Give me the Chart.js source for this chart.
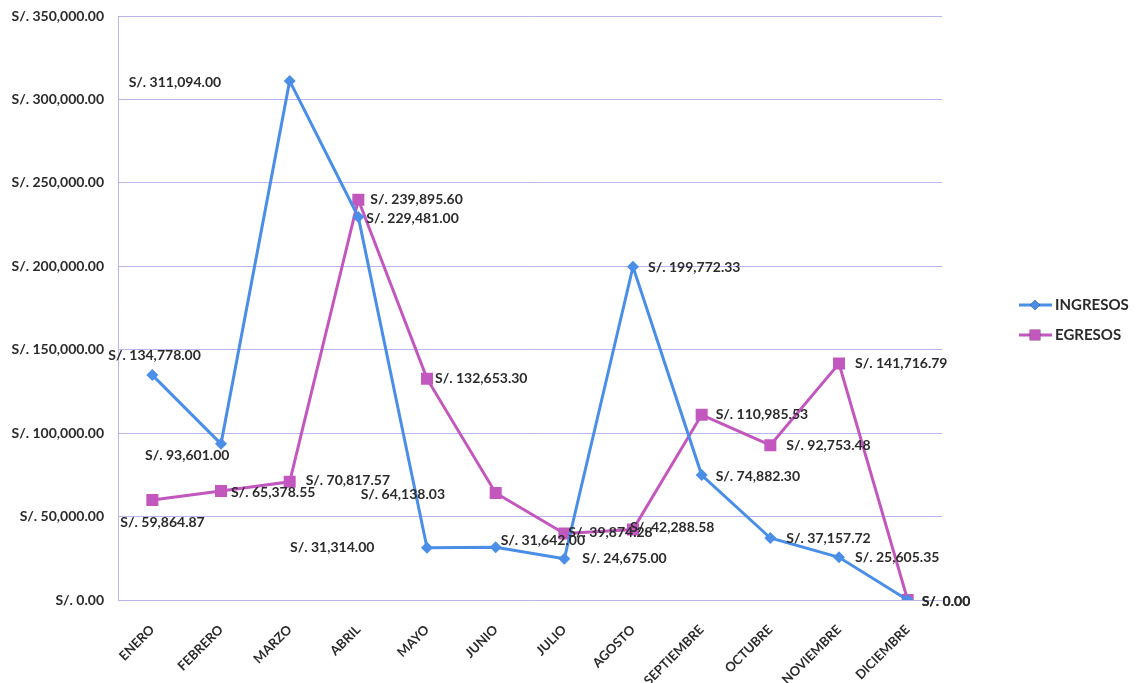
<!DOCTYPE html>
<html>
<head>
<meta charset="utf-8">
<script src="https://cdn.jsdelivr.net/npm/chart.js@4.4.1/dist/chart.umd.min.js"></script>
<style>
  html, body { margin: 0; padding: 0; background: #fff; }
  #wrap { width: 1136px; height: 683px; }
</style>
</head>
<body>
<div id="wrap"><canvas id="flujoChart"></canvas></div>
<script>
const meses = ['ENERO', 'FEBRERO', 'MARZO', 'ABRIL', 'MAYO', 'JUNIO', 'JULIO',
               'AGOSTO', 'SEPTIEMBRE', 'OCTUBRE', 'NOVIEMBRE', 'DICIEMBRE'];
const ingresos = [134778.00, 93601.00, 311094.00, 229481.00, 31314.00, 31642.00,
                  24675.00, 199772.33, 74882.30, 37157.72, 25605.35, 0.00];
const egresos = [59864.87, 65378.55, 70817.57, 239895.60, 132653.30, 64138.03,
                 39874.28, 42288.58, 110985.53, 92753.48, 141716.79, 0.00];
const yMin = 0, yMax = 350000, yPaso = 50000;

// desplazamiento de cada etiqueta respecto a su punto (px)
const offIngresos = [[-44, -20], [-76, 12], [-161, 2], [8, 1], [-137, 0], [5, -7],
                     [18, 0], [15, 1], [14, 1], [16, 0], [16, 0], [14, 1]];
const offEgresos = [[-32, 22], [10, 2], [16, -1], [12, 0], [8, 0], [-135, 2],
                    [4, -1], [-3, -2], [14, 0], [16, 0], [16, 0], [14, 1]];

const AZUL = '#4a8ee6';
const ROSA = '#c257be';
const TEXTO = '#2b2b2b';
const REJILLA = '#b9b5ea';
const FUENTE = 'Lato, "Open Sans", sans-serif';

function soles(v) {
    return 'S/. ' + Number(v).toLocaleString('en-US', { minimumFractionDigits: 2, maximumFractionDigits: 2 });
}

// etiquetas de datos
const etiquetas = {
    id: 'etiquetas',
    afterDatasetsDraw(chart) {
        const ctx = chart.ctx;
        const offs = [offIngresos, offEgresos];
        ctx.save();
        ctx.font = 'bold 14px ' + FUENTE;
        ctx.fillStyle = TEXTO;
        ctx.textAlign = 'left';
        ctx.textBaseline = 'middle';
        chart.data.datasets.forEach((ds, i) => {
            chart.getDatasetMeta(i).data.forEach((pt, j) => {
                const o = offs[i][j];
                ctx.fillText(soles(ds.data[j]), pt.x + o[0], pt.y + o[1]);
            });
        });
        ctx.restore();
    }
};

// leyenda con linea y marcador
const leyenda = {
    id: 'leyenda',
    afterDraw(chart) {
        const ctx = chart.ctx;
        const area = chart.chartArea;
        const x0 = area.right + 77;
        const mid = (area.top + area.bottom) / 2;
        ctx.save();
        chart.data.datasets.forEach((ds, i) => {
            const y = mid - 3 + i * 30;
            ctx.strokeStyle = ds.borderColor;
            ctx.lineWidth = 3;
            ctx.beginPath();
            ctx.moveTo(x0, y);
            ctx.lineTo(x0 + 33, y);
            ctx.stroke();
            Chart.helpers.drawPoint(ctx, {
                pointStyle: ds.pointStyle, radius: ds.pointRadius - 1, borderWidth: 0
            }, x0 + 16, y);
            ctx.fillStyle = ds.borderColor;
            ctx.fill();
            ctx.fillStyle = TEXTO;
            ctx.font = 'bold 15px ' + FUENTE;
            ctx.textAlign = 'left';
            ctx.textBaseline = 'middle';
            ctx.fillText(ds.label, x0 + 36, y);
        });
        ctx.restore();
    }
};

new Chart(document.getElementById('flujoChart'), {
    type: 'line',
    data: {
        labels: meses,
        datasets: [{
            label: 'INGRESOS',
            data: ingresos,
            borderColor: AZUL,
            backgroundColor: AZUL,
            borderWidth: 3,
            pointStyle: 'rectRot',
            pointRadius: 6,
            pointBorderWidth: 0,
            tension: 0
        }, {
            label: 'EGRESOS',
            data: egresos,
            borderColor: ROSA,
            backgroundColor: ROSA,
            borderWidth: 3,
            pointStyle: 'rect',
            pointRadius: 8.5,
            pointBorderWidth: 0,
            tension: 0
        }]
    },
    options: {
        responsive: true,
        maintainAspectRatio: false,
        animation: false,
        layout: { padding: { top: 16, right: 194, bottom: 0, left: 0 } },
        plugins: {
            legend: { display: false },
            tooltip: { enabled: false }
        },
        scales: {
            x: {
                offset: true,
                grid: { display: false },
                border: { display: false },
                ticks: {
                    color: TEXTO,
                    font: { family: FUENTE, size: 13, weight: 'bold' },
                    maxRotation: 45,
                    minRotation: 45,
                    padding: 14
                },
                afterFit(axis) {
                    axis.height = 83;
                    axis.paddingLeft = 0;
                    axis.paddingRight = 0;
                }
            },
            y: {
                min: yMin,
                max: yMax,
                grid: { color: REJILLA, lineWidth: 1, drawTicks: false },
                border: { color: REJILLA },
                ticks: {
                    stepSize: yPaso,
                    color: TEXTO,
                    padding: 14,
                    font: { family: FUENTE, size: 14, weight: 'bold' },
                    callback: v => soles(v)
                },
                afterFit(axis) {
                    axis.width = 118;
                    axis.paddingTop = 0;
                    axis.paddingBottom = 0;
                }
            }
        }
    },
    plugins: [etiquetas, leyenda]
});
</script>
</body>
</html>
